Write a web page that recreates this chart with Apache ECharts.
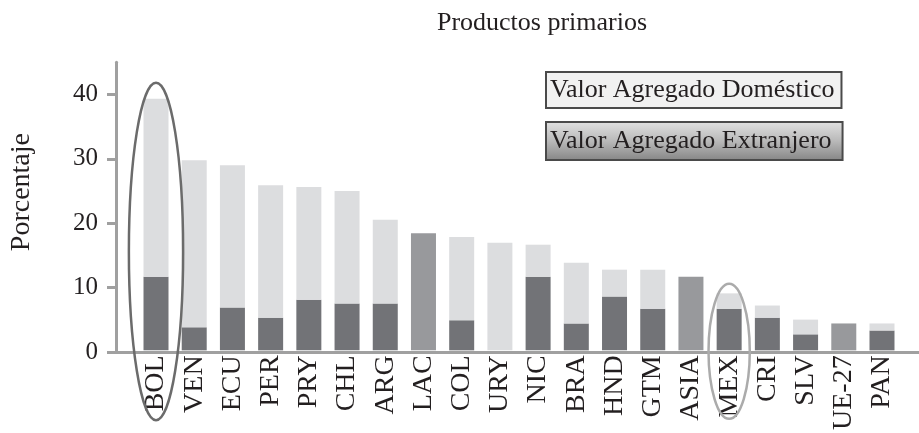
<!DOCTYPE html>
<html><head><meta charset="utf-8">
<script src="https://cdn.jsdelivr.net/npm/echarts@6/dist/echarts.min.js"></script>
<style>html,body{margin:0;padding:0;background:#fff}#c{width:919px;height:433px}</style>
</head><body><div id="c"></div>
<script>
const categories = ['BOL','VEN','ECU','PER','PRY','CHL','ARG','LAC','COL','URY','NIC','BRA','HND','GTM','ASIA','MEX','CRI','SLV','UE-27','PAN'];
const extranjero = [11.5, 3.6, 6.7, 5.1, 7.9, 7.3, 7.3, null, 4.7, 0, 11.5, 4.2, 8.4, 6.5, null, 6.5, 5.1, 2.5, null, 3.1];
const domestico  = [27.8, 26.1, 22.2, 20.7, 17.6, 17.6, 13.1, null, 13.0, 16.8, 5.0, 9.5, 4.2, 6.1, null, 2.4, 1.9, 2.3, null, 1.1];
const regiones   = [null, null, null, null, null, null, null, 18.3, null, null, null, null, null, null, 11.5, null, null, null, 4.2, null];
const yTicks = [0, 10, 20, 30, 40];
const highlights = [
  {cat: 'BOL', top: 41.8, bottom: -10.9, halfWidth: 0.71, color: '#6b6b6b'},
  {cat: 'MEX', top: 10.4, bottom: -10.7, halfWidth: 0.54, color: '#ababab'}
];

const SERIF = 'Liberation Serif';
const TXT = '#231f20';
const chart = echarts.init(document.getElementById('c'), null, {renderer: 'canvas'});

const gridTop = 62.2, gridBottom = 81;
const option = {
  animation: false,
  backgroundColor: '#fff',
  title: {
    text: 'Productos primarios', left: 537, top: 5, textAlign: 'center',
    textStyle: {fontFamily: SERIF, fontSize: 26, fontWeight: 'normal', color: TXT}
  },
  legend: {
    left: 537, top: 66, orient: 'vertical', itemGap: 12, itemWidth: 0, itemHeight: 0,
    selectedMode: false, icon: 'none',
    textStyle: {fontFamily: SERIF, fontSize: 26, color: TXT},
    data: [
      {name: 'Valor Agregado Doméstico', icon: 'none',
       textStyle: {backgroundColor: '#f1f1f1', borderColor: '#4a4a4a', borderWidth: 2, padding: [4, 6, 4, 3]}},
      {name: 'Valor Agregado Extranjero', icon: 'none',
       textStyle: {backgroundColor: new echarts.graphic.LinearGradient(0, 0, 0, 1, [
          {offset: 0, color: '#e2e2e2'}, {offset: 0.5, color: '#b9b9b9'}, {offset: 1, color: '#858585'}]),
        borderColor: '#4a4a4a', borderWidth: 2, padding: [5, 10, 5, 3]}}
    ]
  },
  grid: [
    {left: 136.9, right: 17.9, top: gridTop, bottom: gridBottom},
    {left: 108.3, right: 0, top: gridTop, bottom: gridBottom}
  ],
  xAxis: [
    {type: 'category', gridIndex: 0, data: categories,
     axisLine: {show: false}, axisTick: {show: false},
     axisLabel: {rotate: 90, margin: 5, fontFamily: SERIF, fontSize: 28, color: TXT}},
    {type: 'value', gridIndex: 1, min: 0, max: 1,
     axisLine: {show: true, lineStyle: {color: '#a0a0a0', width: 3}},
     axisTick: {show: false}, axisLabel: {show: false}, splitLine: {show: false}}
  ],
  yAxis: [
    {type: 'value', gridIndex: 0, min: 0, max: 45, show: false, splitLine: {show: false}},
    {type: 'value', gridIndex: 1, min: 0, max: 45,
     name: 'Porcentaje', nameLocation: 'middle', nameGap: 80,
     nameTextStyle: {fontFamily: SERIF, fontSize: 28, color: TXT, padding: [0, 0, 0, 30]},
     axisLine: {show: true, lineStyle: {color: '#a0a0a0', width: 3}},
     axisTick: {show: true, length: 9, customValues: yTicks, lineStyle: {color: '#a0a0a0', width: 3}},
     axisLabel: {customValues: yTicks, margin: 18, fontFamily: SERIF, fontSize: 25, color: TXT},
     splitLine: {show: false}}
  ],
  series: [
    {name: 'Valor Agregado Extranjero', type: 'bar', stack: 'v', xAxisIndex: 0, yAxisIndex: 0,
     barWidth: 25, data: extranjero, itemStyle: {color: '#727377'}},
    {name: 'Valor Agregado Doméstico', type: 'bar', stack: 'v', xAxisIndex: 0, yAxisIndex: 0,
     barWidth: 25, data: domestico, itemStyle: {color: '#dcdddf'}},
    {name: 'Regiones', type: 'bar', stack: 'v', xAxisIndex: 0, yAxisIndex: 0,
     barWidth: 25, data: regiones, itemStyle: {color: '#98999c'}}
  ]
};
chart.setOption(option);

const band = chart.convertToPixel({xAxisIndex: 0}, categories[1]) - chart.convertToPixel({xAxisIndex: 0}, categories[0]);
const graphics = highlights.map(h => {
  const cx = chart.convertToPixel({xAxisIndex: 0}, h.cat);
  const yTop = chart.convertToPixel({yAxisIndex: 0}, h.top);
  const yBot = chart.convertToPixel({yAxisIndex: 0}, h.bottom);
  return {type: 'ellipse', z: 100,
    shape: {cx: cx, cy: (yTop + yBot) / 2, rx: h.halfWidth * band, ry: (yBot - yTop) / 2},
    style: {fill: null, stroke: h.color, lineWidth: 2.5}};
});
chart.setOption({graphic: graphics});
</script></body></html>
